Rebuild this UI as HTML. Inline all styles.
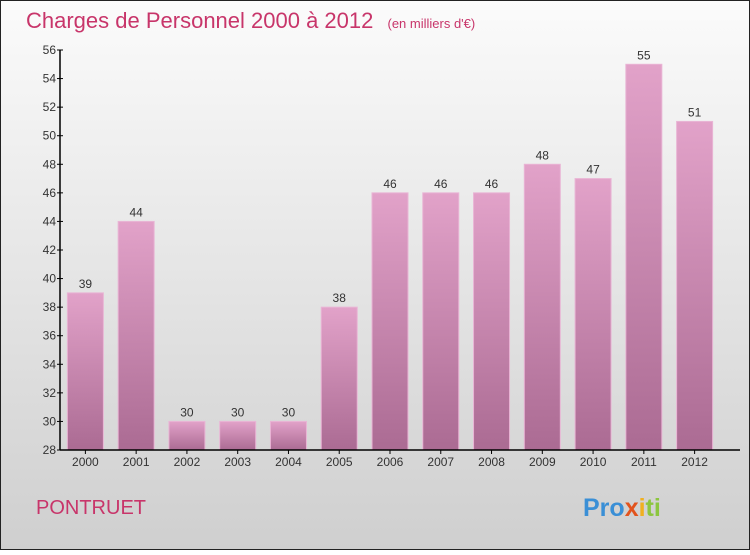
<!DOCTYPE html>
<html><head><meta charset="utf-8"><style>
body{margin:0;width:750px;height:550px;overflow:hidden;font-family:"Liberation Sans",sans-serif}
</style></head><body>
<svg width="750" height="550" xmlns="http://www.w3.org/2000/svg">
<defs>
<linearGradient id="bg" x1="0" y1="0" x2="0" y2="1"><stop offset="0" stop-color="#fbfbfb"/><stop offset="1" stop-color="#cfcfcf"/></linearGradient>
<linearGradient id="bar" x1="0" y1="0" x2="0" y2="1"><stop offset="0" stop-color="#e2a2c9"/><stop offset="1" stop-color="#ab6b93"/></linearGradient>
</defs>
<rect x="0.5" y="0.5" width="749" height="549" fill="url(#bg)" stroke="#222"/>
<text x="26" y="28" font-size="22" fill="#c8356a">Charges de Personnel 2000 à 2012 <tspan font-size="13" dx="8">(en milliers d'€)</tspan></text>
<text x="36" y="514" font-size="20" fill="#c8356a">PONTRUET</text>
<text x="583" y="516" font-size="25" font-weight="bold"><tspan fill="#3a8fd6">Pro</tspan><tspan fill="#e2531d">x</tspan><tspan fill="#f0b020">i</tspan><tspan fill="#8cc63f">ti</tspan></text>
<g id="plot"></g>
</svg>
<script>
const categories=["2000","2001","2002","2003","2004","2005","2006","2007","2008","2009","2010","2011","2012"];
const values=[39,44,30,30,30,38,46,46,46,48,47,55,51];
const yTicks=[28,30,32,34,36,38,40,42,44,46,48,50,52,54,56];
const ns="http://www.w3.org/2000/svg";
const g=document.getElementById('plot');
const x0=60,x1=720,yTop=50,yBot=450,yMin=28,yMax=56;
const step=(x1-x0)/categories.length;
const y=v=>yBot-(v-yMin)/(yMax-yMin)*(yBot-yTop);
function mk(t,a){const e=document.createElementNS(ns,t);for(const k in a)e.setAttribute(k,a[k]);g.appendChild(e);return e;}
categories.forEach((c,i)=>{
 const cx=x0+(i+0.5)*step,w=36;
 const r=mk('rect',{x:cx-w/2,y:y(values[i]),width:w,height:yBot-y(values[i]),fill:'url(#bar)',stroke:'#e9b5d5','stroke-width':1});
 
 
 const t=mk('text',{x:cx,y:y(values[i])-5,'text-anchor':'middle','font-size':12,fill:'#333'});t.textContent=values[i];
 
 
 const l=mk('text',{x:cx,y:466,'text-anchor':'middle','font-size':12,fill:'#333'});l.textContent=c;
 
 
 mk('line',{x1:cx,x2:cx,y1:yBot,y2:yBot+4,stroke:'#000'});
});
yTicks.forEach(v=>{
 mk('line',{x1:x0-3,x2:x0+3,y1:y(v),y2:y(v),stroke:'#000'});
 const t=mk('text',{x:x0-4,y:y(v)+4,'text-anchor':'end','font-size':12,fill:'#333'});t.textContent=v;
 
 
});
const ya=mk('line',{x1:x0,x2:x0,y1:yTop,y2:yBot,stroke:'#000','stroke-width':1.5});


const xa=mk('line',{x1:x0,x2:x1+20,y1:yBot,y2:yBot,stroke:'#000','stroke-width':1.5});


</script>
</body></html>
